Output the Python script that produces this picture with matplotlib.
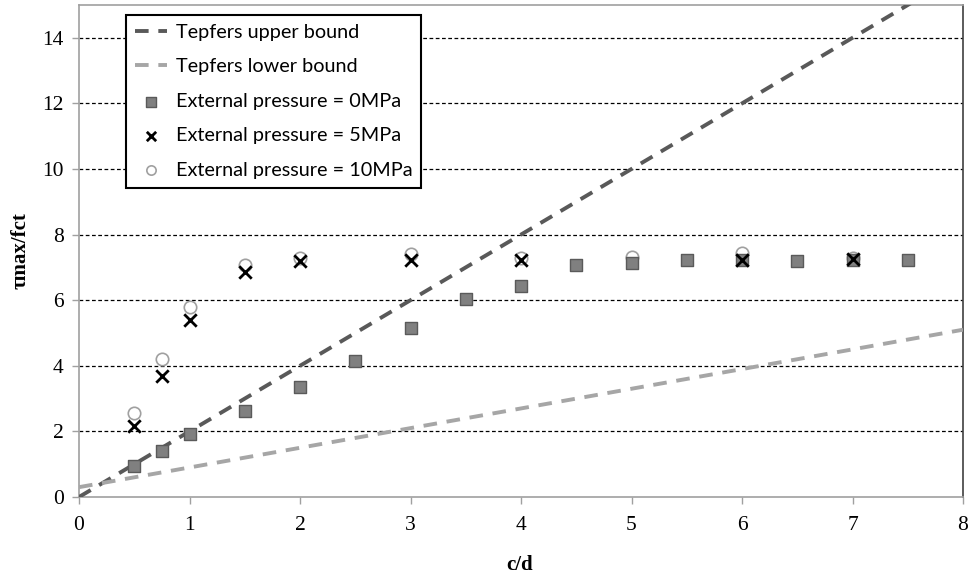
import numpy as np
import matplotlib
matplotlib.use("Agg")
import matplotlib.pyplot as plt

# Data
x_line = [0, 8]
upper_slope, upper_int = 2.0, 0.0
lower_slope, lower_int = 0.6, 0.3

x_p0 = [0.5, 0.75, 1, 1.5, 2, 2.5, 3, 3.5, 4, 4.5, 5, 5.5, 6, 6.5, 7, 7.5]
y_p0 = [0.93, 1.40, 1.93, 2.61, 3.36, 4.14, 5.15, 6.05, 6.42, 7.08, 7.12, 7.22, 7.24, 7.20, 7.24, 7.24]

x_p5 = [0.5, 0.75, 1, 1.5, 2, 3, 4, 6, 7]
y_p5 = [2.16, 3.70, 5.40, 6.87, 7.20, 7.23, 7.23, 7.23, 7.26]

x_p10 = [0.5, 0.75, 1, 1.5, 2, 3, 4, 5, 6, 7]
y_p10 = [2.57, 4.20, 5.80, 7.07, 7.30, 7.42, 7.30, 7.32, 7.43, 7.28]

xticks = [0, 1, 2, 3, 4, 5, 6, 7, 8]
yticks = [0, 2, 4, 6, 8, 10, 12, 14]

fig = plt.figure(figsize=(9.71, 5.79), dpi=100)
ax = fig.add_axes([79/971, 1-497/579, (963-79)/971, (497-5)/579])

xl = np.array(x_line, dtype=float)
ax.plot(xl, upper_slope*xl + upper_int, color="#595959", lw=2.8, ls=(0, (3.5, 2.5)),
        label="Tepfers upper bound", zorder=3)
ax.plot(xl, lower_slope*xl + lower_int, color="#a6a6a6", lw=2.8, ls=(0, (3.5, 2.5)),
        label="Tepfers lower bound", zorder=3)

ax.scatter(x_p0, y_p0, marker="s", s=80, facecolor="#808080", edgecolor="#5a5a5a",
           linewidths=1.0, label="External pressure = 0MPa", zorder=4)
ax.scatter(x_p5, y_p5, marker="x", s=80, color="black", linewidths=2.0,
           label="External pressure = 5MPa", zorder=5)
ax.scatter(x_p10, y_p10, marker="o", s=80, facecolor="white", edgecolor="#a0a0a0",
           linewidths=1.2, label="External pressure = 10MPa", zorder=3.5)

ax.set_xlim(0, 8)
ax.set_ylim(0, 15)
ax.set_xticks(xticks)
ax.set_yticks(yticks)

for yv in yticks[1:]:
    ax.axhline(yv, color="black", lw=0.9, ls=(0, (3, 2)), zorder=1)

serif = ["Liberation Serif", "DejaVu Serif"]
ax.set_xticklabels([str(v) for v in xticks], fontfamily=serif, fontsize=15.5)
ax.set_yticklabels([str(v) for v in yticks], fontfamily=serif, fontsize=15.5)
ax.tick_params(axis="both", direction="out", length=5, width=1, color="#a0a0a0", pad=6)
ax.tick_params(axis="x", pad=9)

for s in ["left", "bottom", "top"]:
    ax.spines[s].set_color("#a0a0a0")
    ax.spines[s].set_linewidth(1.2)
ax.spines["right"].set_color("#404040")
ax.spines["right"].set_linewidth(1.2)

fig.text(520/971, 1-565/579, "c/d", fontfamily=serif, fontweight="bold", fontsize=15,
         ha="center", va="center")
fig.text(21/971, 1-251/579, "τmax/fct", fontfamily=serif, fontweight="bold", fontsize=15,
         ha="center", va="center", rotation=90)

leg = ax.legend(loc="upper left", bbox_to_anchor=(47/884, 0.98), prop={"family": "Lato", "size": 14.3},
                frameon=True, fancybox=False, framealpha=1, edgecolor="black",
                handlelength=1.6, handletextpad=0.45, labelspacing=0.88, borderpad=0.45,
                borderaxespad=0, markerscale=0.75)
leg.get_frame().set_linewidth(1.5)

fig.savefig("out.png", dpi=100)
